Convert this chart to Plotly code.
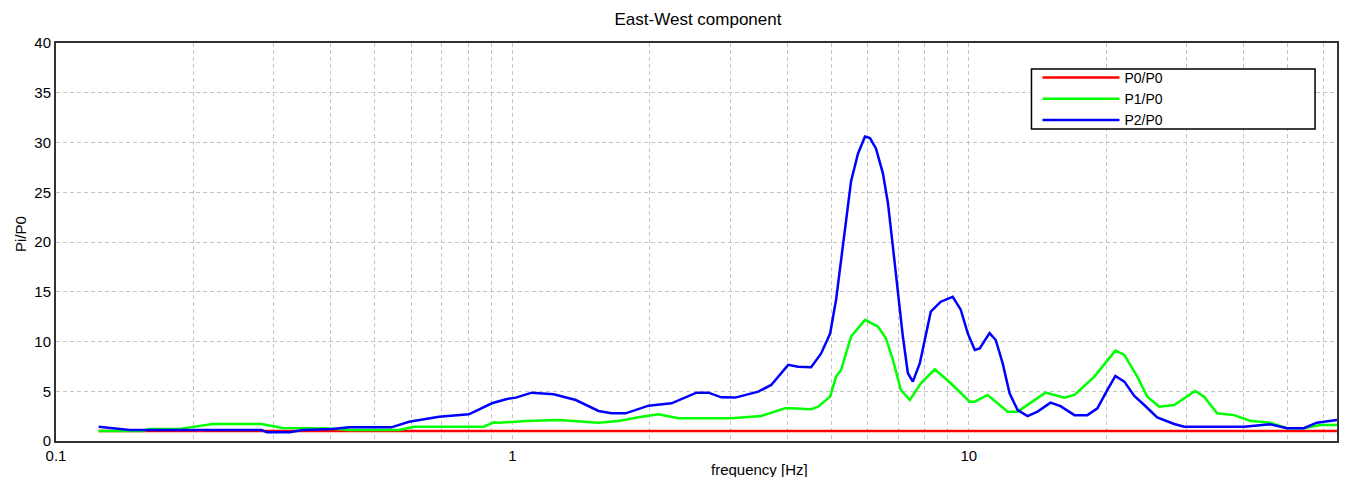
import plotly.graph_objects as go

# ---- data ----
p0_freq = [0.124, 64.1]
p0_vals = [1.0, 1.0]

p1_freq = [0.124, 0.155, 0.160, 0.1866, 0.1963, 0.2204, 0.282, 0.2966, 0.3134, 0.397,
           0.439, 0.565, 0.609, 0.866, 0.911, 0.934, 1.070, 1.264, 1.545, 1.709,
           1.890, 2.090, 2.311, 3.018, 3.511, 3.961, 4.083, 4.515, 4.677, 4.969,
           5.121, 5.252, 5.523, 5.926, 6.326, 6.585, 6.822, 7.102, 7.430, 7.855,
           8.427, 9.135, 10.05, 10.31, 11.00, 11.57, 12.17, 12.80, 13.46, 14.73,
           16.21, 17.05, 18.85, 20.96, 21.93, 23.41, 24.62, 26.16, 28.20, 31.34,
           32.79, 35.02, 38.14, 41.35, 45.73, 49.82, 54.25, 58.80, 64.1]
p1_vals = [1.0, 1.0, 1.2, 1.2, 1.37, 1.7, 1.7, 1.5, 1.3, 1.25,
           1.1, 1.1, 1.44, 1.44, 1.88, 1.84, 2.0, 2.1, 1.84, 2.0,
           2.38, 2.68, 2.28, 2.28, 2.51, 3.28, 3.28, 3.18, 3.45, 4.46,
           6.47, 7.14, 10.5, 12.17, 11.5, 10.33, 8.15, 5.13, 4.12, 5.8,
           7.21, 5.8, 3.95, 3.95, 4.63, 3.79, 2.95, 2.95, 3.62, 4.86,
           4.36, 4.63, 6.47, 9.08, 8.65, 6.47, 4.46, 3.45, 3.62, 5.03,
           4.46, 2.78, 2.6, 2.04, 1.84, 1.28, 1.28, 1.61, 1.61]

p2_freq = [0.124, 0.135, 0.145, 0.282, 0.290, 0.325, 0.347, 0.403, 0.439, 0.543,
           0.594, 0.691, 0.803, 0.902, 0.973, 1.018, 1.103, 1.232, 1.377, 1.545,
           1.650, 1.771, 1.988, 2.232, 2.531, 2.689, 2.871, 3.079, 3.458, 3.692,
           4.022, 4.229, 4.515, 4.749, 4.969, 5.121, 5.252, 5.385, 5.523, 5.721,
           5.926, 6.076, 6.262, 6.486, 6.653, 6.822, 6.996, 7.173, 7.357, 7.544,
           7.814, 8.054, 8.258, 8.685, 9.226, 9.605, 9.949, 10.31, 10.57, 11.11,
           11.46, 11.87, 12.29, 12.80, 13.46, 14.15, 15.11, 15.89, 17.05, 18.20,
           19.14, 20.13, 20.96, 21.93, 23.06, 24.25, 25.88, 28.20, 29.65, 40.12,
           43.0, 45.73, 49.82, 54.25, 57.91, 63.42, 64.1]
p2_vals = [1.44, 1.24, 1.1, 1.1, 0.87, 0.87, 1.1, 1.2, 1.37, 1.37,
           1.94, 2.44, 2.68, 3.79, 4.22, 4.36, 4.86, 4.69, 4.12, 3.02,
           2.78, 2.78, 3.55, 3.79, 4.86, 4.86, 4.39, 4.36, 4.96, 5.63,
           7.65, 7.47, 7.41, 8.8, 10.8, 14.2, 18.2, 22.2, 26.1, 28.9,
           30.6, 30.45, 29.4, 26.9, 23.9, 19.5, 14.85, 10.5, 6.81, 5.97,
           7.82, 10.84, 13.0, 14.0, 14.5, 13.2, 10.84, 9.15, 9.3, 10.84,
           10.15, 7.8, 4.8, 3.1, 2.5, 2.95, 3.85, 3.5, 2.6, 2.6,
           3.28, 5.13, 6.54, 5.97, 4.53, 3.62, 2.38, 1.71, 1.44, 1.44,
           1.6, 1.68, 1.28, 1.28, 1.84, 2.1, 2.1]

x_tickvals = [0.1, 1, 10]
x_ticktext = ["0.1", "1", "10"]
y_tickvals = [0, 5, 10, 15, 20, 25, 30, 35, 40]
x_minor = [m * d for d in (0.1, 1, 10) for m in range(2, 10) if m * d < 64.1]

FONT = "Liberation Sans, Arial, sans-serif"
GRID = "#c4c4c4"

# figure geometry (page body has an 8px margin)
W, H = 1332, 469
L, R, T, B = 48, 1, 35, 36
PW, PH = W - L - R, H - T - B


def px(xw):
    return (xw - 8 - L) / PW


def py(yw):
    return (H - B - (yw - 8)) / PH


fig = go.Figure()
fig.add_trace(go.Scatter(x=p0_freq, y=p0_vals, mode="lines", name="P0/P0",
                         line=dict(color="#ff0000", width=2.5)))
fig.add_trace(go.Scatter(x=p1_freq, y=p1_vals, mode="lines", name="P1/P0",
                         line=dict(color="#00ff00", width=2.5)))
fig.add_trace(go.Scatter(x=p2_freq, y=p2_vals, mode="lines", name="P2/P0",
                         line=dict(color="#0000ff", width=2.5)))

fig.update_layout(
    width=W, height=H,
    margin=dict(l=L, r=R, t=T, b=B),
    paper_bgcolor="white", plot_bgcolor="white",
    font=dict(family=FONT, size=15, color="#000000"),
    title=dict(text="East-West component", x=(698 - 8) / W, xref="container",
               xanchor="center", y=1 - 11 / H, yref="container", yanchor="middle",
               font=dict(size=17, family=FONT, color="#000")),
    showlegend=True,
    legend=dict(x=px(1039), y=py(62), xanchor="left", yanchor="top",
                bgcolor="rgba(0,0,0,0)", borderwidth=0,
                font=dict(size=14, family=FONT, color="#000"),
                itemwidth=77, tracegroupgap=0, traceorder="normal"),
    shapes=[dict(type="rect", xref="paper", yref="paper",
                 x0=px(1033), x1=px(1317), y0=py(129), y1=py(69),
                 line=dict(color="#000000", width=1.5), fillcolor="white",
                 layer="above")],
)

fig.update_xaxes(
    type="log", range=[-1, 1.807],
    tickvals=x_tickvals, ticktext=x_ticktext,
    showgrid=True, gridcolor=GRID, griddash="4px,3px", gridwidth=1,
    minor=dict(tickvals=x_minor, showgrid=True, gridcolor=GRID,
               griddash="4px,3px", gridwidth=1, ticks=""),
    showline=True, linecolor="#333333", linewidth=2, mirror=True,
    ticks="", tickfont=dict(size=15, family=FONT, color="#000"),
    zeroline=False,
)
fig.update_yaxes(
    range=[0, 40], tickvals=y_tickvals,
    showgrid=True, gridcolor=GRID, griddash="4px,3px", gridwidth=1,
    showline=True, linecolor="#333333", linewidth=2, mirror=True,
    ticks="", tickfont=dict(size=15, family=FONT, color="#000"),
    zeroline=False,
)

fig.add_annotation(text="frequency [Hz]", xref="paper", yref="paper",
                   x=px(761), y=py(469), xanchor="center", yanchor="middle",
                   showarrow=False, font=dict(size=15, family=FONT, color="#000"))
fig.add_annotation(text="Pi/P0", xref="paper", yref="paper",
                   x=px(20), y=py(234), xanchor="center", yanchor="middle",
                   textangle=-90, showarrow=False,
                   font=dict(size=15, family=FONT, color="#000"))

fig.write_html("out.html")
